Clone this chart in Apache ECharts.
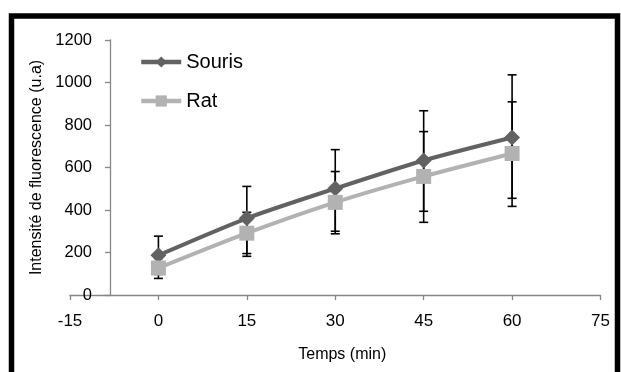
<!DOCTYPE html>
<html>
<head>
<meta charset="utf-8">
<script src="https://cdn.jsdelivr.net/npm/echarts@6/dist/echarts.min.js"></script>
<style>
html,body{margin:0;padding:0;background:#fff;}
#c{width:621px;height:372px;}
</style>
</head>
<body>
<div id="c"></div>
<script>
// Data
var times = [0, 15, 30, 45, 60];
var sourisValues = [187, 361, 501, 633, 741];
var ratValues = [127, 291, 436, 558, 666];
var sourisLow = [97, 195, 300, 394, 455];
var sourisHigh = [277, 511, 684, 867, 1036];
var ratLow = [78, 182, 288, 342, 417];
var ratHigh = [172, 389, 581, 769, 909];
var xTicks = [-15, 0, 15, 30, 45, 60, 75];
var yTicks = [0, 200, 400, 600, 800, 1000, 1200];

var chart = echarts.init(document.getElementById('c'), null, {renderer: 'canvas'});

function pairs(xs, ys) { return xs.map(function (x, i) { return [x, ys[i]]; }); }
function errData(xs, lo, hi) { return xs.map(function (x, i) { return [x, lo[i], hi[i]]; }); }

function errRender(params, api) {
  var x = api.value(0);
  var lo = api.coord([x, api.value(1)]);
  var hi = api.coord([x, api.value(2)]);
  var w = 4.5;
  var st = {stroke: '#000', lineWidth: 1.6};
  return {
    type: 'group',
    children: [
      {type: 'line', shape: {x1: lo[0], y1: lo[1], x2: hi[0], y2: hi[1]}, style: st},
      {type: 'line', shape: {x1: lo[0] - w, y1: lo[1], x2: lo[0] + w, y2: lo[1]}, style: st},
      {type: 'line', shape: {x1: hi[0] - w, y1: hi[1], x2: hi[0] + w, y2: hi[1]}, style: st}
    ]
  };
}

var font = '"Liberation Sans", Arial, sans-serif';

chart.setOption({
  animation: false,
  backgroundColor: '#fff',
  textStyle: {fontFamily: font},
  graphic: [{
    type: 'rect',
    shape: {x: 11.5, y: 16, width: 606, height: 420},
    style: {fill: 'none', stroke: '#000', lineWidth: 5.5},
    silent: true,
    z: 100
  }],
  grid: {left: 70, right: 20.5, top: 40, bottom: 77, containLabel: false},
  legend: {
    orient: 'vertical',
    left: 139,
    top: 52,
    padding: 0,
    itemWidth: 40,
    itemHeight: 14,
    itemGap: 19,
    data: ['Souris', 'Rat'],
    lineStyle: {width: 4.5},
    textStyle: {fontFamily: font, fontSize: 20, color: '#000'}
  },
  xAxis: {
    type: 'value',
    min: -15,
    max: 75,
    interval: 15,
    name: 'Temps (min)',
    nameLocation: 'middle',
    nameGap: 52,
    nameTextStyle: {fontFamily: font, fontSize: 16, color: '#000', padding: [0, 0, 0, 14]},
    axisLine: {onZero: false, lineStyle: {color: '#868686', width: 1.3}},
    axisTick: {show: true, length: 5, inside: false, lineStyle: {color: '#868686', width: 1.3}},
    axisLabel: {
      fontFamily: font, fontSize: 17, color: '#000', margin: 18,
      formatter: function (v) { return xTicks.indexOf(v) >= 0 ? String(v) : ''; }
    },
    splitLine: {show: false}
  },
  yAxis: {
    type: 'value',
    min: 0,
    max: 1200,
    interval: 200,
    offset: -40,
    name: 'Intensité de fluorescence (u.a)',
    nameLocation: 'middle',
    nameGap: 61,
    nameRotate: 90,
    nameTextStyle: {fontFamily: font, fontSize: 16, color: '#000'},
    axisLine: {show: true, onZero: false, lineStyle: {color: '#868686', width: 1.3}},
    axisTick: {show: true, length: 5, lineStyle: {color: '#868686', width: 1.3}},
    axisLabel: {
      fontFamily: font, fontSize: 16.5, color: '#000', margin: 18,
      formatter: function (v) { return yTicks.indexOf(v) >= 0 ? String(v) : ''; }
    },
    splitLine: {show: false}
  },
  series: [
    {
      name: 'SourisErr', type: 'custom', renderItem: errRender,
      data: errData(times, sourisLow, sourisHigh), z: 1, silent: true
    },
    {
      name: 'RatErr', type: 'custom', renderItem: errRender,
      data: errData(times, ratLow, ratHigh), z: 1, silent: true
    },
    {
      name: 'Souris', type: 'line', data: pairs(times, sourisValues),
      smooth: 0.25,
      symbol: 'diamond', symbolSize: 16,
      lineStyle: {color: '#626262', width: 4},
      itemStyle: {color: '#626262'},
      z: 3
    },
    {
      name: 'Rat', type: 'line', data: pairs(times, ratValues),
      smooth: 0.25,
      symbol: 'rect', symbolSize: 15,
      lineStyle: {color: '#b2b2b2', width: 4},
      itemStyle: {color: '#b2b2b2'},
      z: 4
    }
  ]
});
</script>
</body>
</html>
